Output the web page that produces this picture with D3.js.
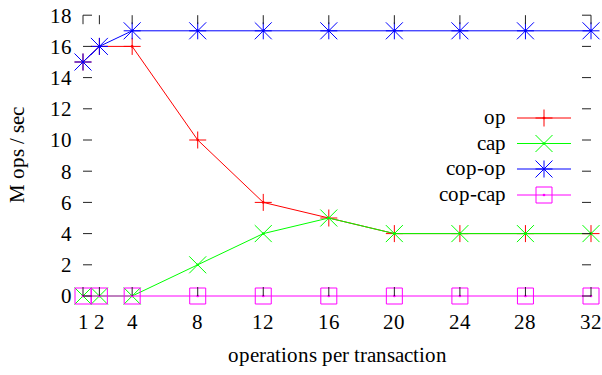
<!DOCTYPE html>
<html>
<head>
<meta charset="utf-8">
<script src="https://cdn.jsdelivr.net/npm/d3@7"></script>
<style>
  @font-face {
    font-family: "ChartSerif";
    src: local("Liberation Serif"), local("LiberationSerif"), local("LiberationSerif-Regular"), local("Times New Roman");
  }
  html, body { margin: 0; background: #fff; font-family: "ChartSerif", "Liberation Serif", "Times New Roman", serif; }
</style>
</head>
<body>
<svg id="chart" width="602" height="375"></svg>
<script>
// Operations per transaction (x) and throughput in M ops / sec (y)
const xValues = [1, 2, 4, 8, 12, 16, 20, 24, 28, 32];
const opValues     = [15, 16, 16, 10, 6, 5, 4, 4, 4, 4];
const capValues    = [0, 0, 0, 2, 4, 5, 4, 4, 4, 4];
const copOpValues  = [15, 16, 17, 17, 17, 17, 17, 17, 17, 17];
const copCapValues = [0, 0, 0, 0, 0, 0, 0, 0, 0, 0];
const seriesNames  = ["op", "cap", "cop-op", "cop-cap"];
const yTicks = [0, 2, 4, 6, 8, 10, 12, 14, 16, 18];

const series = [
  { name: seriesNames[0], values: opValues,     color: "#ff0000", marker: "plus" },
  { name: seriesNames[1], values: capValues,    color: "#00ff00", marker: "cross" },
  { name: seriesNames[2], values: copOpValues,  color: "#0000ff", marker: "star" },
  { name: seriesNames[3], values: copCapValues, color: "#ff00ff", marker: "square" }
];

const FONT = "ChartSerif, 'Liberation Serif', 'Times New Roman', serif";
const FS = 21;

function draw() {
  const svg = d3.select("#chart");
  const plotLeft = 83, plotRight = 591, plotTop = 15.2, plotBottom = 296;
  const x = d3.scaleLinear().domain([1, 32]).range([plotLeft, plotRight]);
  const y = d3.scaleLinear().domain([0, 18]).range([plotBottom, plotTop]);

  const label = sel => sel.style("font-family", FONT).style("font-size", FS + "px").attr("fill", "#000");

  function markerPath(type, cx, cy) {
    const p = d3.path();
    const r = 8.5;
    if (type === "plus") {
      p.moveTo(cx - r, cy); p.lineTo(cx + r, cy);
      p.moveTo(cx, cy - r); p.lineTo(cx, cy + r);
    } else if (type === "cross") {
      p.moveTo(cx - r, cy - r); p.lineTo(cx + r, cy + r);
      p.moveTo(cx - r, cy + r); p.lineTo(cx + r, cy - r);
    } else if (type === "star") {
      p.moveTo(cx - r, cy); p.lineTo(cx + r, cy);
      p.moveTo(cx, cy - r); p.lineTo(cx, cy + r);
      p.moveTo(cx - r, cy - r); p.lineTo(cx + r, cy + r);
      p.moveTo(cx - r, cy + r); p.lineTo(cx + r, cy - r);
    } else if (type === "square") {
      const s = 8;
      p.rect(cx - s, cy - s, 2 * s, 2 * s);
    }
    return p.toString();
  }

  // Series lines with point markers
  const line = d3.line().x((d, i) => x(xValues[i])).y(d => y(d));
  series.forEach(s => {
    const g = svg.append("g");
    g.append("path")
      .attr("d", line(s.values))
      .attr("fill", "none")
      .attr("stroke", s.color)
      .attr("stroke-width", 1);
    s.values.forEach((v, i) => {
      g.append("path")
        .attr("d", markerPath(s.marker, x(xValues[i]), y(v)))
        .attr("fill", "none")
        .attr("stroke", s.color)
        .attr("stroke-width", 1);
      g.append("circle")
        .attr("cx", x(xValues[i])).attr("cy", y(v)).attr("r", 1.3)
        .attr("fill", s.color);
    });
  });

  // Mirrored tick marks (no border)
  const ticks = svg.append("g").attr("stroke", "#222").attr("stroke-width", 1);
  const tl = 9;
  yTicks.forEach(t => {
    ticks.append("line").attr("x1", plotLeft).attr("x2", plotLeft + tl).attr("y1", y(t)).attr("y2", y(t));
    ticks.append("line").attr("x1", plotRight - tl).attr("x2", plotRight).attr("y1", y(t)).attr("y2", y(t));
  });
  xValues.forEach(t => {
    ticks.append("line").attr("x1", x(t)).attr("x2", x(t)).attr("y1", plotBottom).attr("y2", plotBottom - tl);
    ticks.append("line").attr("x1", x(t)).attr("x2", x(t)).attr("y1", y(18)).attr("y2", y(18) + tl);
  });

  // Tick labels
  svg.append("g").selectAll("text").data(yTicks).join("text")
    .call(label)
    .attr("x", 72).attr("y", d => y(d)).attr("dy", "0.35em")
    .attr("text-anchor", "end")
    .text(d => d);
  svg.append("g").selectAll("text").data(xValues).join("text")
    .call(label)
    .attr("x", d => x(d)).attr("y", 329)
    .attr("text-anchor", "middle")
    .text(d => d);

  // Axis titles
  svg.append("text").call(label)
    .attr("x", 337).attr("y", 362).attr("text-anchor", "middle")
    .text("operations per transaction");
  svg.append("text").call(label)
    .attr("transform", "translate(24,155) rotate(-90)")
    .attr("text-anchor", "middle")
    .text("M ops / sec");

  // Legend
  const legY = [118, 143.5, 169, 195];
  series.forEach((s, i) => {
    const ly = legY[i];
    svg.append("text").call(label)
      .attr("x", 506).attr("y", ly).attr("dy", "0.3em")
      .attr("text-anchor", "end")
      .text(s.name);
    svg.append("line")
      .attr("x1", 517).attr("x2", 571).attr("y1", ly).attr("y2", ly)
      .attr("stroke", s.color).attr("stroke-width", 1);
    svg.append("path")
      .attr("d", markerPath(s.marker, 544, ly))
      .attr("fill", "none").attr("stroke", s.color).attr("stroke-width", 1);
    svg.append("circle").attr("cx", 544).attr("cy", ly).attr("r", 1.3).attr("fill", s.color);
  });
}

draw();
</script>
</body>
</html>
